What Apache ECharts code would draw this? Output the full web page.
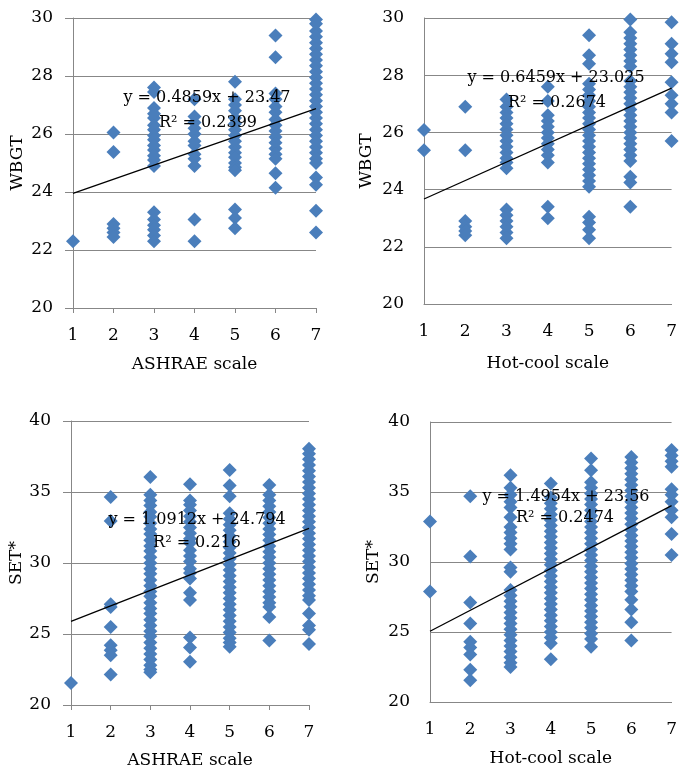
<!DOCTYPE html>
<html>
<head>
<meta charset="utf-8">
<script src="https://cdn.jsdelivr.net/npm/echarts@6/dist/echarts.min.js"></script>
<style>
  html, body { margin: 0; padding: 0; background: #fff; }
  #chart { width: 680px; height: 772px; }
</style>
</head>
<body>
<div id="chart"></div>
<script>
// x categories (scale votes 1..7)
const scaleVotes = [1, 2, 3, 4, 5, 6, 7]

// y values for each vote, one list per vote (index 0 = vote 1)
const wbgtAshrae = [
  [22.3],
  [26.05, 25.38, 22.9, 22.75, 22.6, 22.45],
  [27.6, 27.45, 26.9, 26.7, 26.55, 26.3, 26.15, 25.95, 25.8, 25.6, 25.45, 25.25, 25.1, 24.9, 23.3, 23.05, 22.85, 22.7, 22.5, 22.3],
  [27.2, 26.6, 26.4, 26.2, 26.0, 25.75, 25.6, 25.3, 25.15, 24.9, 23.05, 22.3],
  [27.8, 27.2, 27.0, 26.8, 26.55, 26.35, 26.15, 25.95, 25.75, 25.55, 25.35, 25.2, 25.0, 24.85, 24.75, 23.4, 23.1, 22.75],
  [29.4, 28.65, 27.4, 27.2, 26.95, 26.75, 26.5, 26.3, 26.1, 25.9, 25.7, 25.5, 25.3, 25.15, 24.65, 24.15],
  [29.95, 29.8, 29.55, 29.35, 29.15, 28.95, 28.75, 28.55, 28.35, 28.15, 27.95, 27.75, 27.55, 27.35, 27.15, 26.95, 26.75, 26.55, 26.35, 26.15, 25.95, 25.75, 25.55, 25.35, 25.15, 25.0, 24.5, 24.25, 23.35, 22.6]
]
const wbgtHotcool = [
  [26.08, 25.38],
  [26.9, 25.38, 22.9, 22.7, 22.55, 22.4],
  [27.15, 26.9, 26.7, 26.5, 26.3, 26.1, 25.9, 25.7, 25.5, 25.3, 25.1, 24.95, 24.75, 23.3, 23.1, 22.9, 22.7, 22.5, 22.3],
  [27.6, 27.1, 26.6, 26.4, 26.2, 26.0, 25.8, 25.6, 25.4, 25.2, 24.95, 23.4, 23.0],
  [29.4, 28.7, 28.4, 27.7, 27.5, 27.3, 27.1, 26.9, 26.7, 26.5, 26.3, 26.1, 25.9, 25.7, 25.5, 25.3, 25.1, 24.9, 24.7, 24.5, 24.3, 24.1, 23.05, 22.85, 22.6, 22.3],
  [29.95, 29.5, 29.3, 29.1, 28.9, 28.7, 28.5, 28.3, 27.8, 27.6, 27.4, 27.2, 27.0, 26.8, 26.6, 26.4, 26.2, 26.0, 25.8, 25.6, 25.4, 25.2, 25.0, 24.45, 24.25, 23.4],
  [29.85, 29.1, 28.75, 28.45, 27.75, 27.3, 27.0, 26.7, 25.7]
]
const setAshrae = [
  [21.55],
  [34.65, 32.95, 27.1, 26.9, 25.5, 24.2, 23.85, 23.5, 22.15],
  [36.05, 34.8, 34.4, 34.05, 33.6, 33.25, 32.8, 32.4, 32.05, 31.6, 31.2, 30.85, 30.4, 30.0, 29.6, 29.25, 28.8, 28.4, 28.0, 27.65, 27.2, 26.8, 26.45, 26.0, 25.6, 25.2, 24.85, 24.4, 24.0, 23.6, 23.2, 22.8, 22.5, 22.3],
  [35.55, 34.4, 34.1, 33.7, 33.3, 32.9, 32.5, 32.1, 31.7, 31.4, 30.9, 30.5, 30.1, 29.6, 29.3, 28.9, 27.9, 27.4, 24.75, 24.05, 23.05],
  [36.55, 35.45, 34.7, 33.5, 33.1, 32.7, 32.3, 31.9, 31.5, 31.1, 30.7, 30.3, 29.9, 29.5, 29.1, 28.7, 28.3, 27.9, 27.5, 27.1, 26.7, 26.3, 25.9, 25.5, 25.1, 24.7, 24.4, 24.1],
  [35.5, 34.8, 34.4, 34.0, 33.6, 33.2, 32.8, 32.4, 32.0, 31.6, 31.2, 30.8, 30.4, 30.0, 29.6, 29.2, 28.8, 28.4, 28.0, 27.6, 27.2, 26.9, 26.2, 24.55],
  [38.05, 37.7, 37.3, 36.9, 36.5, 36.1, 35.7, 35.3, 34.9, 34.5, 34.1, 33.7, 33.3, 32.9, 32.5, 32.1, 31.7, 31.3, 30.9, 30.5, 30.1, 29.7, 29.3, 28.9, 28.5, 28.1, 27.7, 27.4, 26.45, 25.6, 25.3, 24.3]
]
const setHotcool = [
  [32.9, 27.9],
  [34.7, 30.4, 27.1, 25.6, 24.3, 23.9, 23.4, 22.3, 21.55],
  [36.2, 35.3, 34.8, 34.3, 33.9, 33.2, 32.5, 32.1, 31.7, 31.3, 30.9, 29.6, 29.3, 28.0, 27.6, 27.2, 26.8, 26.4, 26.0, 25.6, 25.2, 24.8, 24.4, 24.0, 23.6, 23.2, 22.8, 22.5],
  [35.6, 34.6, 34.2, 33.8, 33.4, 33.0, 32.6, 32.2, 31.8, 31.4, 31.0, 30.6, 30.2, 29.8, 29.4, 29.0, 28.6, 28.2, 27.8, 27.4, 27.0, 26.6, 26.2, 25.8, 25.4, 25.0, 24.6, 24.2, 23.05],
  [37.4, 36.55, 35.7, 35.3, 34.9, 34.5, 34.1, 33.7, 33.3, 32.9, 32.5, 32.1, 31.7, 31.3, 30.9, 30.5, 30.1, 29.7, 29.3, 28.9, 28.5, 28.1, 27.7, 27.3, 26.9, 26.5, 26.1, 25.7, 25.3, 24.9, 24.5, 23.95],
  [37.5, 37.1, 36.7, 36.3, 35.9, 35.5, 35.1, 34.7, 34.3, 33.9, 33.5, 33.1, 32.7, 32.3, 31.9, 31.5, 31.1, 30.7, 30.3, 29.9, 29.5, 29.1, 28.7, 28.3, 27.9, 27.3, 26.6, 25.7, 24.4],
  [38.0, 37.6, 37.2, 36.8, 35.2, 34.8, 34.3, 33.7, 33.2, 32.0, 30.5]
]

// linear trend lines (slope, intercept, R²)
const trendSlope = [0.4859, 0.6459, 1.0912, 1.4954]
const trendIntercept = [23.47, 23.025, 24.794, 23.56]
const trendR2 = ['0.2399', '0.2674', '0.216', '0.2474']

const xNames = ['ASHRAE scale', 'Hot-cool scale', 'ASHRAE scale', 'Hot-cool scale']
const yNames = ['WBGT', 'WBGT', 'SET*', 'SET*']
const yMin = [20, 20, 20, 20]
const yMax = [30, 30, 40, 40]
const yStep = [2, 2, 5, 5]

const panelData = [wbgtAshrae, wbgtHotcool, setAshrae, setHotcool]

const FONT = 'DejaVu Serif'
const LINE = '#878787'
const BLUE = '#4A7EBB'

const grids = [
  { left: 73, top: 18, right: 364, bottom: 464 },
  { left: 424, top: 18, right: 5, bottom: 468 },
  { left: 71, top: 421, right: 371, bottom: 67 },
  { left: 430, top: 422, right: 4, bottom: 70 }
]
const hasTicks = [true, false, true, false]
const yNameGap = [47, 49, 46, 48]
const xNameGap = [48, 51, 47, 48]
const labelPos = [
  { eq: [207, 98], r2: [208, 123] },
  { eq: [556, 78], r2: [557, 103] },
  { eq: [197, 520], r2: [197, 543] },
  { eq: [566, 497], r2: [565, 518] }
]

const xAxes = []
const yAxes = []
const series = []
const graphics = []

for (let p = 0; p < 4; p++) {
  xAxes.push({
    gridIndex: p,
    type: 'value',
    min: 1,
    max: 7,
    interval: 1,
    name: xNames[p],
    nameLocation: 'middle',
    nameGap: xNameGap[p],
    nameTextStyle: { fontFamily: FONT, fontSize: 17, color: '#000' },
    axisLine: { show: true, onZero: false, lineStyle: { color: LINE, width: 1 } },
    axisTick: { show: hasTicks[p], length: 5, lineStyle: { color: LINE } },
    axisLabel: { margin: 19, fontFamily: FONT, fontSize: 17, color: '#000' },
    splitLine: { show: false }
  })
  yAxes.push({
    gridIndex: p,
    type: 'value',
    min: yMin[p],
    max: yMax[p],
    interval: yStep[p],
    name: yNames[p],
    nameLocation: 'middle',
    nameGap: yNameGap[p],
    nameTextStyle: { fontFamily: FONT, fontSize: 17, color: '#000' },
    axisLine: { show: true, onZero: false, lineStyle: { color: LINE, width: 1 } },
    axisTick: { show: hasTicks[p], length: 8, lineStyle: { color: LINE } },
    axisLabel: { margin: 20, fontFamily: FONT, fontSize: 17, color: '#000' },
    splitLine: { show: true, lineStyle: { color: LINE, width: 1 } }
  })

  const pts = []
  panelData[p].forEach((col, i) => {
    col.forEach(v => pts.push([scaleVotes[i], v]))
  })
  series.push({
    type: 'scatter',
    xAxisIndex: p,
    yAxisIndex: p,
    symbol: 'diamond',
    symbolSize: 14,
    clip: false,
    itemStyle: { color: BLUE, opacity: 1 },
    data: pts,
    z: 2
  })

  const a = trendSlope[p]
  const b = trendIntercept[p]
  series.push({
    type: 'line',
    xAxisIndex: p,
    yAxisIndex: p,
    symbol: 'none',
    silent: true,
    lineStyle: { color: '#000', width: 1.3 },
    data: [[1, a * 1 + b], [7, a * 7 + b]],
    z: 3
  })

  const txt = (s, pos) => ({
    type: 'text',
    x: pos[0],
    y: pos[1],
    z: 100,
    style: {
      text: s,
      fill: '#000',
      font: '16px "' + FONT + '"',
      align: 'center',
      verticalAlign: 'middle',
      textAlign: 'center',
      textVerticalAlign: 'middle'
    }
  })
  graphics.push(txt('y = ' + a + 'x + ' + b, labelPos[p].eq))
  graphics.push(txt('R² = ' + trendR2[p], labelPos[p].r2))
}

const chart = echarts.init(document.getElementById('chart'))
chart.setOption({
  animation: false,
  backgroundColor: '#fff',
  grid: grids,
  xAxis: xAxes,
  yAxis: yAxes,
  series: series,
  graphic: graphics
})
</script>
</body>
</html>
